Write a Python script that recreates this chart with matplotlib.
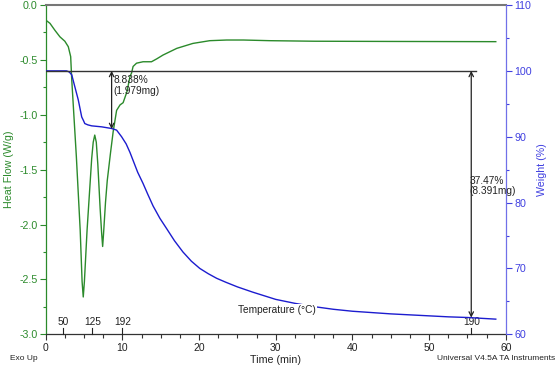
import matplotlib
matplotlib.use("Agg")
import matplotlib.pyplot as plt
from matplotlib.ticker import MultipleLocator

plt.rcParams['font.family'] = ['Liberation Sans', 'DejaVu Sans']

# Heat flow (W/g) vs time (min)
hf_time = [0.0, 0.56, 1.2, 1.86, 2.5, 2.95, 3.26, 3.4, 4.0, 4.5, 4.75, 4.9, 5.05, 5.4, 6.0, 6.2, 6.4, 6.6,
           6.8, 7.1, 7.3, 7.43, 7.55, 7.8, 8.03, 8.45, 8.8, 9.25, 9.7, 10.1, 10.6, 11.0, 11.2, 11.4, 11.85,
           12.7, 13.8, 14.5, 15.3, 17.1, 19.2, 21.4, 23.6, 25.8, 29.2, 35.0, 45.0, 58.7]
hf_vals = [-0.137, -0.167, -0.23, -0.29, -0.33, -0.38, -0.47, -0.68, -1.38, -2.05, -2.52, -2.66, -2.52, -2.05, -1.4, -1.25, -1.185, -1.25,
           -1.45, -1.85, -2.08, -2.2, -2.08, -1.8, -1.6, -1.35, -1.155, -0.96, -0.91, -0.89, -0.79, -0.65, -0.62, -0.56, -0.53,
           -0.517, -0.517, -0.49, -0.456, -0.395, -0.35, -0.325, -0.319, -0.319, -0.325, -0.33, -0.332, -0.334]

# Weight (%) vs time (min)
w_time = [0.0, 2.7, 2.95, 3.1, 3.4, 3.8, 4.25, 4.7, 4.95, 5.1, 5.5, 6.0, 7.3, 8.6, 9.25, 9.9, 10.5, 11.0, 11.5,
          12.0, 12.7, 13.3, 14.0, 14.9, 15.8, 16.8, 17.9, 19.0, 20.1, 21.2, 22.3, 23.5, 25.0, 27.0, 30.0, 32.5,
          35.0, 37.5, 40.0, 42.5, 45.0, 47.5, 50.0, 52.5, 55.0, 58.7]
w_vals = [100.0, 100.0, 99.9, 99.8, 99.4, 97.6, 95.6, 93.0, 92.4, 92.0, 91.8, 91.65, 91.5, 91.25, 91.0, 90.0, 88.9, 87.6, 86.1,
          84.6, 82.9, 81.3, 79.5, 77.6, 76.0, 74.2, 72.5, 71.1, 70.0, 69.2, 68.5, 67.9, 67.2, 66.4, 65.3, 64.7,
          64.2, 63.8, 63.5, 63.3, 63.1, 62.95, 62.8, 62.65, 62.55, 62.3]

# Weight-loss steps
step1_time = 8.6
step1_from, step1_to = 100.0, 91.16
step1_text = "8.838%\n(1.979mg)"
step2_time = 55.5
step2_from, step2_to = 100.0, 62.53
step2_text = "37.47%\n(8.391mg)"
baseline_end = 56.1

# Temperature markers on time axis
temp_times = [2.3, 6.1, 10.0, 55.5]
temp_labels = ["50", "125", "192", "190"]

GREEN = '#2b8a2b'
BLUE = '#1c1ccf'
BLUE_AX = '#4040e0'

fig = plt.figure(figsize=(5.57, 3.68), dpi=100)
ax = fig.add_axes([0.082, 0.0916, 0.826, 0.8948])
ax2 = ax.twinx()

ax.plot(hf_time, hf_vals, color=GREEN, lw=1.0, zorder=3)
ax.set_xlim(0, 60)
ax.set_ylim(-3, 0)
ax2.set_ylim(60, 110)

ax2.plot(w_time, w_vals, color=BLUE, lw=1.0, zorder=2)

# baseline and arrows
ax2.plot([0, baseline_end], [100, 100], color='#333333', lw=1.0, zorder=4)
for t, a, b in [(step1_time, step1_from, step1_to), (step2_time, step2_from, step2_to)]:
    ax2.annotate('', xy=(t, b), xytext=(t, a),
                 arrowprops=dict(arrowstyle='<->', color='#222222', lw=0.9,
                                 shrinkA=0, shrinkB=0, mutation_scale=8), zorder=5)
ax2.text(step1_time + 0.2, 99.3, step1_text, fontsize=7.3, va='top', ha='left', color='#222222',
         linespacing=1.05)
ax2.text(step2_time - 0.2, 84.1, step2_text, fontsize=7.3, va='top', ha='left', color='#222222',
         linespacing=1.05)

ax2.text(30.2, 63.7, "Temperature (°C)", fontsize=7.3, ha='center', va='center', color='#222222',
         bbox=dict(facecolor='white', edgecolor='none', pad=0.5), zorder=6)

# temperature ticks
tr = ax.get_xaxis_transform()
for t, lab in zip(temp_times, temp_labels):
    ax.plot([t, t], [0, 0.018], color='#222222', lw=0.8, transform=tr, clip_on=False, zorder=5)
    ax.text(t, 0.022, lab, transform=tr, ha='center', va='bottom', fontsize=7.3, color='#222222')

# axes styling
ax.xaxis.set_major_locator(MultipleLocator(10))
ax.xaxis.set_minor_locator(MultipleLocator(2.5))
ax.yaxis.set_major_locator(MultipleLocator(0.5))
ax.yaxis.set_minor_locator(MultipleLocator(0.25))
ax.yaxis.set_major_formatter(plt.FuncFormatter(lambda v, p: f"{v:.1f}"))
ax2.yaxis.set_major_locator(MultipleLocator(10))
ax2.yaxis.set_minor_locator(MultipleLocator(5))

ax.tick_params(axis='x', which='major', length=4, width=0.8, color='#333333', labelsize=7.5,
               labelcolor='#222222', pad=2)
ax.tick_params(axis='x', which='minor', length=3, width=0.8, color='#333333')
ax.tick_params(axis='y', which='major', length=4, width=0.8, color=GREEN, labelsize=7.7,
               labelcolor=GREEN, pad=2)
ax.tick_params(axis='y', which='minor', length=2.5, width=0.8, color=GREEN)
ax2.tick_params(axis='y', which='major', length=4, width=0.8, color=BLUE_AX, labelsize=7.7,
                labelcolor=BLUE_AX, pad=2)
ax2.tick_params(axis='y', which='minor', length=2.5, width=0.8, color=BLUE_AX)

ax.spines['left'].set_color(GREEN)
ax.spines['left'].set_linewidth(0.9)
ax.spines['right'].set_visible(False)
ax.spines['top'].set_color('#777777')
ax.spines['top'].set_linewidth(1.5)
ax.spines['bottom'].set_color('#333333')
ax.spines['bottom'].set_linewidth(0.9)
for s in ['left', 'top', 'bottom']:
    ax2.spines[s].set_visible(False)
ax2.spines['right'].set_color('#7070e8')
ax2.spines['right'].set_linewidth(0.9)

ax.set_ylabel("Heat Flow (W/g)", color=GREEN, fontsize=7.7, labelpad=4)
ax2.set_ylabel("Weight (%)", color=BLUE_AX, fontsize=7.7, labelpad=4)
ax.set_xlabel("Time (min)", color='#222222', fontsize=7.7, labelpad=1.5)

fig.text(10 / 557, 1 - 358 / 368, "Exo Up", fontsize=6, ha='left', va='center', color='#222222')
fig.text(555 / 557, 1 - 358 / 368, "Universal V4.5A TA Instruments", fontsize=6, ha='right',
         va='center', color='#222222')

fig.savefig("out.png", dpi=100)
